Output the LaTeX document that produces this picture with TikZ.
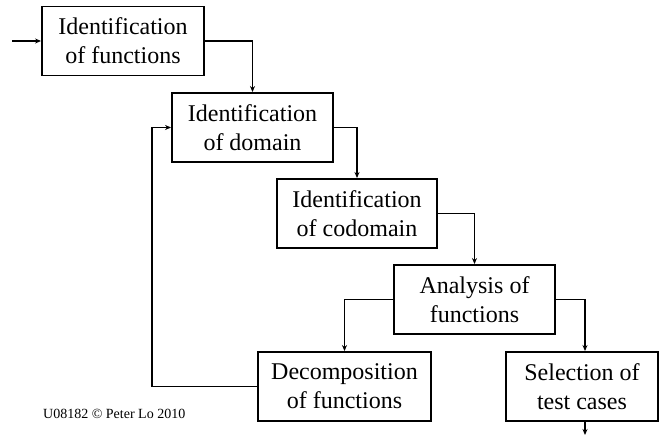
\documentclass[tikz,border=0pt]{standalone}
\usepackage{fontspec}
\setmainfont{Liberation Serif}
\usetikzlibrary{arrows.meta}
\begin{document}
\begin{tikzpicture}[x=1pt,y=-1pt,
  stepbox/.style={draw,line width=1.9pt,minimum height=69pt,inner sep=2pt,
    align=center,font=\fontsize{24}{29}\selectfont},
  link/.style={line width=1.8pt,-{Stealth[length=6pt,width=5pt]}}]
\useasboundingbox (0,0) rectangle (659,435);
% process boxes
\node[stepbox,minimum width=162pt] (idf) at (123,41) {Identification\\of functions};
\node[stepbox,minimum width=161pt] (idd) at (252.5,127.5) {Identification\\of domain};
\node[stepbox,minimum width=160pt] (idc) at (357,213.5) {Identification\\of codomain};
\node[stepbox,minimum width=161pt] (ana) at (474.5,299.5) {Analysis of\\functions};
\node[stepbox,minimum width=173pt] (dec) at (344.5,386.5) {Decomposition\\of functions};
\node[stepbox,minimum width=152pt] (sel) at (582,386.5) {Selection of\\test cases};
% free ends
\coordinate (in) at (12,41);
\coordinate (out) at (585,435);
% flow
\draw[link] (in) -- (idf.west);
\draw[link] (idf.east) -| (idd.north);
\draw[link] (idd.east) -| (idc.north);
\draw[link] (idc.east) -| (ana.north);
\draw[link] (ana.west) -| (dec.north);
\draw[link] (ana.east) -| ([xshift=3pt]sel.north);
\draw[link] ([xshift=3pt]sel.south) -- (out);
\draw[link] (dec.west) -- ++(-105,0) |- (idd.west);
% credit line
\node[anchor=base west,inner sep=0pt,font=\fontsize{14}{16}\selectfont] (credit) at (43,419) {U08182 © Peter Lo 2010};
\end{tikzpicture}
\end{document}
